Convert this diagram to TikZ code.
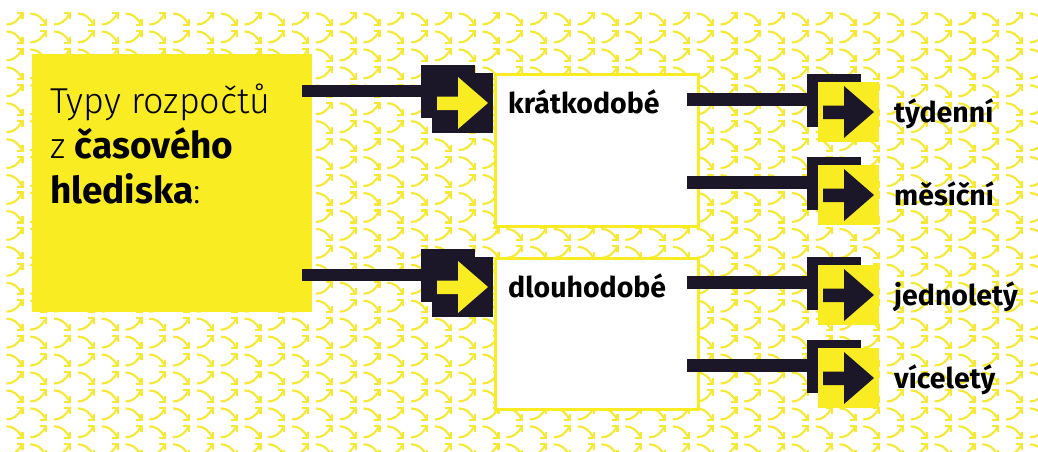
\documentclass[tikz,border=0pt]{standalone}
\usepackage{fontspec}
\setmainfont{Fira Sans}
\newfontfamily\lightfont{Fira Sans Light}

\definecolor{brandyellow}{HTML}{FAEC23}
\definecolor{patyellow}{HTML}{F7E833}
\definecolor{ink}{HTML}{1B1628}

\tikzset{
  pat/.style={draw=patyellow, line width=2.1pt, line cap=butt, line join=miter},
  upglyph/.pic={
    \draw[pat] (-8.5,5.5) .. controls (-2,5.5) and (3,2) .. (7,-5.5);
    \draw[pat] (1.5,-6) -- (7.5,-6) -- (7.5,0);
  },
  downglyph/.pic={
    \draw[pat] (-8.5,-5.5) .. controls (-2,-5.5) and (3,-2) .. (7,5.5);
    \draw[pat] (7.5,0) -- (7.5,6) -- (1.5,6);
  },
  bar/.style={draw=ink, line width=12.5pt, line cap=butt},
  label/.style={anchor=base west, inner sep=0pt, font=\fontsize{28.5}{34}\selectfont\bfseries, text=black},
  headline/.style={anchor=base west, inner sep=0pt, font=\fontsize{36}{45}\selectfont, text=black},
  strong/.style={font=\fontsize{37}{45}\selectfont\bfseries},
  panel/.style={draw=brandyellow, line width=2.5pt, fill=white},
}

% icon: #1 name, (#2,#3) top-left of the front square, #4 back, #5 front, #6 arrow colour
\newcommand{\arrowicon}[6]{%
  \path[fill=#4] (#2-11,#3-8) rectangle (#2+43,#3+45);
  \node[fill=#5, inner sep=0pt, minimum width=61pt, minimum height=60pt, anchor=north west] (#1) at (#2,#3) {};
  \path[fill=#6] (#2+5,#3+23.5) -- (#2+26,#3+23.5) -- (#2+26,#3+4) -- (#2+56,#3+30)
     -- (#2+26,#3+56) -- (#2+26,#3+37) -- (#2+5,#3+37) -- cycle;
}

\newcommand{\strongtext}[1]{{\fontsize{37}{45}\selectfont\bfseries #1}}

\begin{document}
\begin{tikzpicture}[x=1pt,y=-1pt]
  \fill[white] (0,0) rectangle (1038,452);
  \useasboundingbox (0,0) rectangle (1038,452);

  % background texture of curved arrows
  \begin{scope}
    \clip (0,0) rectangle (1038,452);
    \foreach \j in {0,...,24}{
      \foreach \i in {0,...,43}{
        \pgfmathsetmacro\cx{15+23.8*\i}
        \pgfmathsetmacro\cy{19+17.95*\j}
        \pgfmathtruncatemacro\parity{mod(\i+\j,2)}
        \ifnum\parity=0
          \pic at (\cx,\cy) {upglyph};
        \else
          \pic at (\cx,\cy) {downglyph};
        \fi
      }
    }
  \end{scope}

  % title block
  \node[fill=brandyellow, inner sep=0pt, minimum width=280pt, minimum height=258pt, anchor=north west] (src) at (32,54) {};
  \node[headline] (t1) at (50,113) {\lightfont Typy rozpočtů};
  \node[headline] (t2) at (50,158) {{\lightfont z} \strongtext{časového}};
  \node[headline] (t3) at (50,203) {\strongtext{hlediska}{\lightfont :}};

  % middle panels
  \node[panel, inner sep=0pt, minimum width=203pt, minimum height=152pt, anchor=north west] (short) at (494,73) {};
  \node[panel, inner sep=0pt, minimum width=203pt, minimum height=151pt, anchor=north west] (long) at (494,257) {};

  % connectors from the title block
  \coordinate (s1) at (302,91);
  \coordinate (s2) at (302,275);
  \coordinate (k1) at (421,91);
  \coordinate (k2) at (421,275);
  \draw[bar] (s1) -- (k1);
  \draw[bar] (s2) -- (k2);
  \arrowicon{ia}{432}{73}{ink}{ink}{brandyellow}
  \arrowicon{ib}{432}{257}{ink}{ink}{brandyellow}

  \node[label] (lshort) at (508,113) {krátkodobé};
  \node[label] (llong) at (508,297) {dlouhodobé};

  % connectors to the leaves
  \coordinate (o1) at (687,99.5);
  \coordinate (o2) at (687,182.5);
  \coordinate (o3) at (687,282.5);
  \coordinate (o4) at (687,365.5);
  \coordinate (e1) at (808,99.5);
  \coordinate (e2) at (808,182.5);
  \coordinate (e3) at (808,282.5);
  \coordinate (e4) at (808,365.5);
  \foreach \n in {1,2,3,4}{\draw[bar] (o\n) -- (e\n);}
  \arrowicon{r1}{818}{82}{ink}{brandyellow}{ink}
  \arrowicon{r2}{818}{165}{ink}{brandyellow}{ink}
  \arrowicon{r3}{818}{265}{ink}{brandyellow}{ink}
  \arrowicon{r4}{818}{348}{ink}{brandyellow}{ink}

  \node[label] (w) at (894,122) {týdenní};
  \node[label] (m) at (894,205) {měsíční};
  \node[label] (j) at (894,305) {jednoletý};
  \node[label] (v) at (894,388) {víceletý};
\end{tikzpicture}
\end{document}
